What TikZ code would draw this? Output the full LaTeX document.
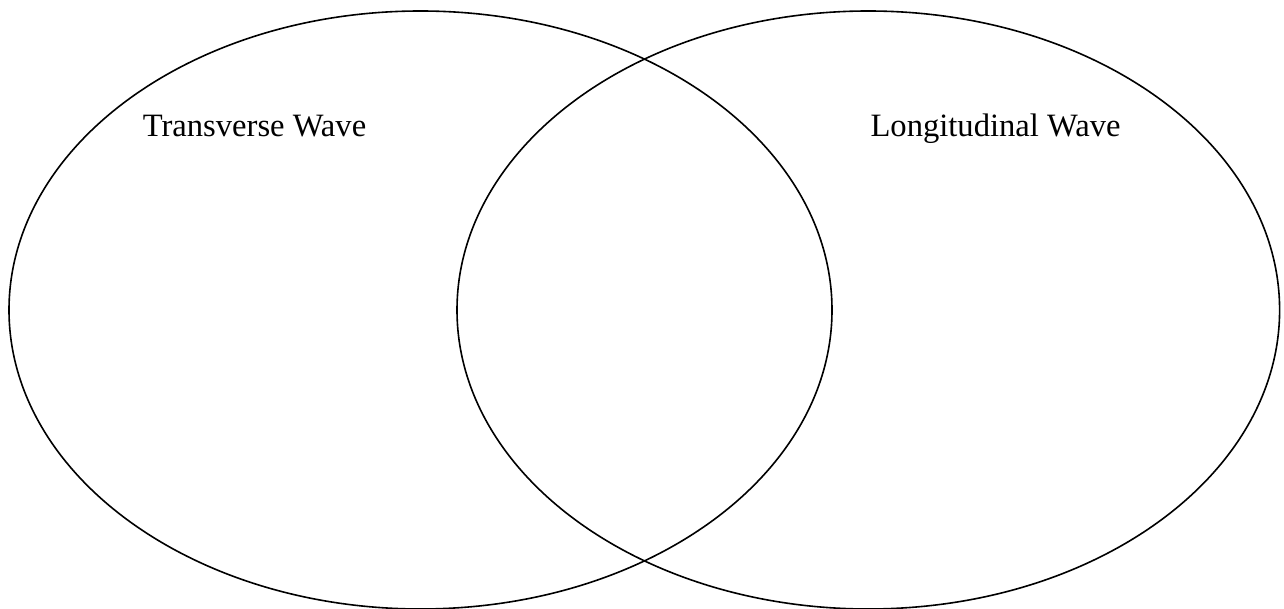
\documentclass[tikz,border=0pt]{standalone}
\usepackage{fontspec}
\setmainfont{Liberation Serif}
\begin{document}
\begin{tikzpicture}[x=1pt,y=1pt,
  circ/.style={draw=black,line width=1.6pt},
  lbl/.style={anchor=base,inner sep=0pt,font=\fontsize{32.6}{39}\selectfont}]
\useasboundingbox (0,0) rectangle (1284,608);
\begin{scope}
\clip (0,0) rectangle (1284,608);
\draw[circ] (420.5,298) ellipse [x radius=411.5, y radius=299];
\draw[circ] (868.3,298) ellipse [x radius=411.3, y radius=299];
\end{scope}
\node[lbl] (t) at (254.5,471) {Transverse Wave};
\node[lbl] (l) at (995.5,471) {Longitudinal Wave};
\end{tikzpicture}
\end{document}
